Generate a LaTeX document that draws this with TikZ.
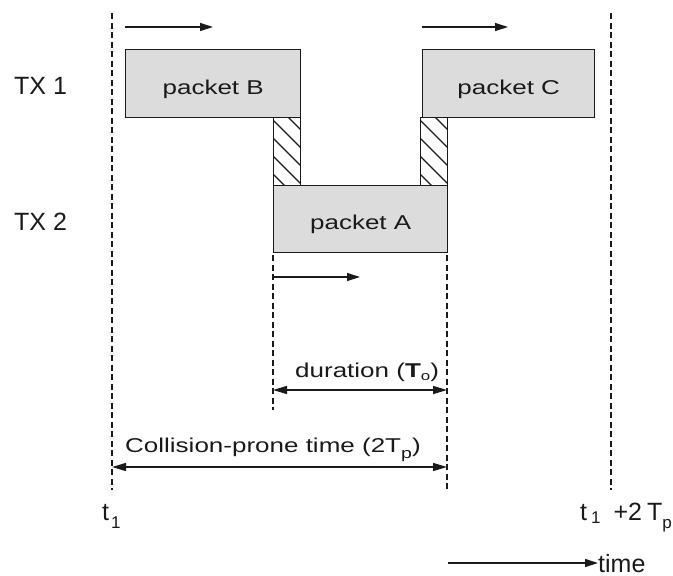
\documentclass[tikz,border=0pt]{standalone}
\usepackage{fontspec}
\setmainfont{Liberation Sans}
\newfontfamily\widefont[FakeStretch=1.3]{Liberation Sans}
\usetikzlibrary{arrows.meta}
\definecolor{pktfill}{HTML}{DCDCDC}
\definecolor{ink}{HTML}{1A1A1A}
% lowered subscript: #1 = drop, #2 = size, #3 = text
\newcommand\dropsub[3]{\raisebox{-#1}{\fontsize{#2}{#2}\selectfont #3}}
\begin{document}
\begin{tikzpicture}[x=1pt,y=-1pt,
  font=\widefont\fontsize{20}{24}\selectfont,
  bigtext/.style={font=\fontsize{25}{30}\selectfont},
  packet/.style={draw=ink, line width=1.4pt, fill=pktfill, inner sep=0pt,
    anchor=north west, text height=21pt, text depth=0pt, text=ink},
  hatchbox/.style={draw=ink, line width=1.4pt, inner sep=0pt, anchor=north west,
    minimum width=27pt, minimum height=68pt,
    path picture={
      \foreach \o in {-15,3,21,39,57}
        \draw[ink, line width=1.1pt] ([yshift=-\o pt]path picture bounding box.north west) -- ++(60,60);
    }},
  guide/.style={draw=ink, line width=1.6pt, dash pattern=on 6pt off 3.5pt},
  arr/.style={draw=ink, line width=1.3pt, -{Triangle[length=13pt,width=8pt]}},
  dimline/.style={draw=ink, line width=1.3pt, {Triangle[length=14pt,width=8pt]}-{Triangle[length=14pt,width=8pt]}},
  lbl/.style={inner sep=0pt, anchor=base west, text=ink}]
\useasboundingbox (0,0) rectangle (673,576);

% time markers
\coordinate (t1top) at (112,13);   \coordinate (t1bot) at (112,490);
\coordinate (t2top) at (611,13);   \coordinate (t2bot) at (611,490);
\coordinate (astop) at (273,255);  \coordinate (asbot) at (273,410);
\coordinate (aetop) at (447,255);  \coordinate (aebot) at (447,490);
\draw[guide] (t1top) -- (t1bot);
\draw[guide] (t2top) -- (t2bot);
\draw[guide] (astop) -- (asbot);
\draw[guide] (aetop) -- (aebot);

% overlap regions
\node[hatchbox] (ovl) at (273,117) {};
\node[hatchbox] (ovr) at (420,117) {};

% packets
\node[packet, minimum width=175pt, minimum height=68pt] (pB) at (125,49) {packet B};
\node[packet, minimum width=172pt, minimum height=68pt] (pC) at (422,49) {packet C};
\node[packet, minimum width=174pt, minimum height=67pt] (pA) at (273,185) {packet A};

% direction of transmission
\coordinate (bs) at (125,27); \coordinate (be) at (213,27);
\coordinate (cs) at (422,27); \coordinate (ce) at (508,27);
\coordinate (as) at (273,277); \coordinate (ae) at (360,277);
\draw[arr] (bs) -- (be);
\draw[arr] (cs) -- (ce);
\draw[arr] (as) -- (ae);

% row labels
\node[lbl, bigtext] (tx1) at (14,94) {TX 1};
\node[lbl, bigtext] (tx2) at (14,230) {TX 2};

% durations
\coordinate (ds) at (273,390); \coordinate (de) at (447,390);
\draw[dimline] (ds) -- (de);
\node[lbl] (dur) at (295,377) {duration (\textbf{T}\dropsub{3pt}{13}{o})};
\coordinate (cps) at (112,467); \coordinate (cpe) at (447,467);
\draw[dimline] (cps) -- (cpe);
\node[lbl] (cp) at (125,452) {Collision-prone time (2T\dropsub{6pt}{15}{p})};

% time axis labels
\node[lbl, bigtext] (t1) at (102,520) {t\hspace{2pt}\dropsub{8pt}{17}{1}};
\node[lbl, bigtext] (t2) at (580,520)
  {t\hspace{4pt}\dropsub{3pt}{17}{1}\hspace{13pt}+2\hspace{5pt}T\dropsub{8pt}{17}{p}};
\node[lbl, bigtext] (time) at (598,572) {time};
\coordinate (tstart) at (448,563);
\draw[arr] (tstart) -- (tstart -| time.west);
\end{tikzpicture}
\end{document}
